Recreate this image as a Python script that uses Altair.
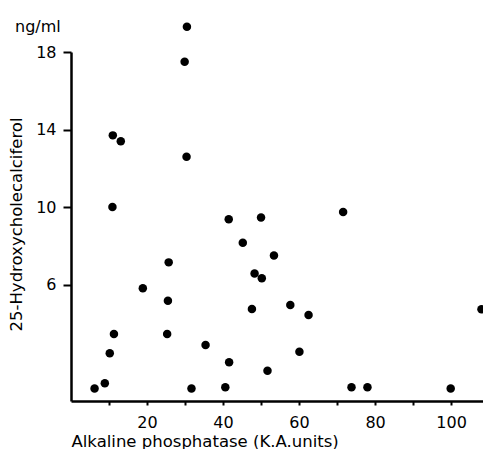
import altair as alt
import pandas as pd

# Alkaline phosphatase (K.A. units)
alk = [30.5, 29.9, 11.0, 13.1, 30.4, 10.9,
       41.5, 45.2, 25.7, 18.9, 25.5, 11.3, 25.3, 35.4, 10.2, 41.6, 8.9, 6.2, 31.7, 40.6,
       71.6, 50.0, 53.4, 48.3, 50.2, 47.6, 57.7, 62.5, 108.0, 60.1, 51.7, 73.8, 78.0, 99.9]
# 25-Hydroxycholecalciferol (ng/ml)
hcc = [19.3, 17.5, 13.7, 13.4, 12.6, 10.0,
       9.37, 8.16, 7.15, 5.81, 5.17, 3.46, 3.46, 2.89, 2.46, 2.0, 0.91, 0.65, 0.65, 0.71,
       9.75, 9.47, 7.51, 6.58, 6.33, 4.74, 4.95, 4.44, 4.73, 2.54, 1.56, 0.71, 0.71, 0.65]

x_ticks = [10, 20, 30, 40, 50, 60, 70, 80, 90, 100]
y_ticks = [6, 10, 14, 18]

df = pd.DataFrame({"alk": alk, "hcc": hcc})

FONT = "DejaVu Sans"

chart = alt.Chart(df).mark_circle(size=72, color="black", opacity=1).encode(
    x=alt.X("alk:Q",
            scale=alt.Scale(domain=[0, 108.4], nice=False, zero=False),
            axis=alt.Axis(values=x_ticks,
                          labelExpr="datum.value % 20 == 0 ? datum.label : ''",
                          title="Alkaline phosphatase (K.A.units)",
                          titleAnchor="start", titleAlign="left",
                          titleFontSize=16.5, titleFontWeight="normal", titleFont=FONT,
                          titlePadding=3,
                          labelFontSize=16, labelFont=FONT, labelPadding=9,
                          tickSize=4, tickWidth=2, domainWidth=2.5,
                          domainColor="black", tickColor="black",
                          labelColor="black", titleColor="black",
                          grid=False)),
    y=alt.Y("hcc:Q",
            scale=alt.Scale(domain=[0, 18], nice=False, zero=False),
            axis=alt.Axis(values=y_ticks,
                          title="25-Hydroxycholecalciferol",
                          titleFontSize=16.5, titleFontWeight="normal", titleFont=FONT,
                          titlePadding=11, titleY=172,
                          labelFontSize=16, labelFont=FONT, labelPadding=7,
                          tickSize=8, tickWidth=2, domainWidth=2.5,
                          domainColor="black", tickColor="black",
                          labelColor="black", titleColor="black",
                          grid=False)),
).properties(
    width=412, height=349,
    title=alt.TitleParams("ng/ml", anchor="start", frame="group", dx=-56, offset=0, dy=12,
                          fontSize=16, fontWeight="normal", font=FONT, color="black"),
    autosize=alt.AutoSizeParams(type="none"),
    padding={"left": 63, "top": 44, "right": 0, "bottom": 48},
).configure_view(stroke=None)

chart.save("out.html", embed_options={"renderer": "svg", "actions": False})
